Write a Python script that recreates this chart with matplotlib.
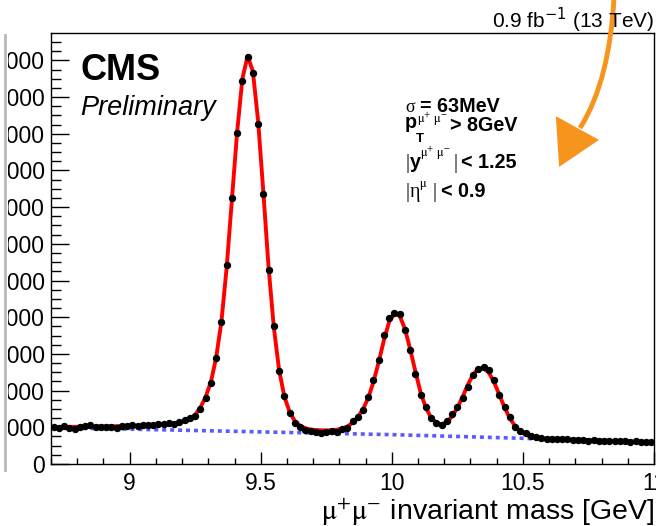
import numpy as np
import matplotlib
matplotlib.use("agg")
import matplotlib.pyplot as plt
from matplotlib.path import Path
from matplotlib.patches import PathPatch, Polygon, Rectangle
from matplotlib.lines import Line2D
from matplotlib.ticker import MultipleLocator

plt.rcParams['font.family'] = ['Liberation Sans', 'DejaVu Sans']

# binning: 115 bins of 20 MeV between 8.7 and 11.0 GeV
mass_edges = np.linspace(8.7, 11.0, 116)
mass = 0.5 * (mass_edges[:-1] + mass_edges[1:])

# events per bin
counts = [
    1010, 985, 1030, 990, 960, 1005, 1040, 1060, 1010, 995, 1000, 1020, 985, 1030,
    1045, 1060, 1040, 1075, 1050, 1070, 1090, 1080, 1110, 1100, 1150, 1190, 1240,
    1300, 1500, 1790, 2200, 2900, 3880, 5420, 7260, 9010, 10440, 11100, 10660, 9260,
    7350, 5300, 3760, 2540, 1850, 1400, 1110,
    1016, 930, 900, 880, 840, 870, 905, 880, 950, 980, 1170,
    1280, 1470, 1830, 2290, 2830, 3510, 3970, 4110, 4090, 3650, 3100, 2450,
    1890, 1560, 1245, 1110, 1065, 1180, 1370, 1540, 1810, 2110, 2420, 2600, 2640,
    2560, 2290, 1880, 1560, 1290, 1020, 900, 840, 760, 735,
    705, 690, 680, 690, 670, 675, 655, 665, 650, 640, 655, 635, 640, 625, 630, 615,
    625, 610, 615, 600, 605, 595,
]

# total fit (signal + background), sampled at the bin centres
fit_total = [
    1005, 1007, 1009, 1011, 1013, 1015, 1017, 1019, 1021, 1023, 1025, 1028, 1031,
    1034, 1037, 1041, 1045, 1050, 1055, 1061, 1068, 1077, 1089, 1105, 1128, 1160,
    1210, 1340, 1540, 1830, 2240, 2900, 3880, 5350, 7200, 9050, 10500, 11120, 10700,
    9350, 7400, 5350, 3720, 2560, 1840, 1420, 1170,
    1040, 975, 940, 925, 918, 916, 920, 935, 965, 1020, 1120,
    1280, 1490, 1800, 2240, 2780, 3380, 3880, 4100, 4040, 3680, 3130, 2520,
    1940, 1530, 1260, 1120, 1080, 1140, 1300, 1530, 1830, 2160, 2440, 2600, 2610,
    2490, 2230, 1890, 1540, 1250, 1030, 890, 800, 750, 715,
    700, 694, 688, 682, 676, 671, 666, 661, 656, 651, 647, 642, 638, 633, 628, 624,
    619, 615, 610, 605, 600, 596,
]

# background component
bg_mass = [8.7, 9.0, 9.5, 10.0, 10.5, 11.0]
bg_fit = [985, 950, 875, 800, 700, 585]

W, H = 656, 526
fig = plt.figure(figsize=(W / 100, H / 100), dpi=100)
ax = fig.add_axes([51 / W, 1 - 464 / H, (654 - 51) / W, (464 - 33) / H])

ax.plot(bg_mass, bg_fit, color="#5a5aff", lw=2.6, ls=(0, (1.1, 1.1)), zorder=2)
ax.plot(mass, fit_total, color="#ff0000", lw=2.8, zorder=3)
ax.plot(mass, counts, "o", color="black", ms=4.3, zorder=4)

ax.set_xlim(8.7, 11.0)
ax.set_ylim(0, 11745)
ax.xaxis.set_major_locator(MultipleLocator(0.5))
ax.xaxis.set_minor_locator(MultipleLocator(0.1))
ax.yaxis.set_major_locator(MultipleLocator(1000))
ax.yaxis.set_minor_locator(MultipleLocator(250))
ax.set_xticks([9, 9.5, 10, 10.5, 11])
ax.set_xticklabels(["9", "9.5", "10", "10.5", "11"])

ax.tick_params(axis="both", which="both", direction="in", top=False, right=False,
               labelsize=16.5, width=1)
ax.tick_params(axis="y", which="major", length=13, pad=4.5)
ax.tick_params(axis="y", which="minor", length=7)
ax.tick_params(axis="x", which="major", length=8.5, pad=6)
ax.tick_params(axis="x", which="minor", length=4)
for s in ax.spines.values():
    s.set_linewidth(1.0)

ax.set_xlabel(r"$\mathrm{\mu^{+}\mu^{-}}$ invariant mass [GeV]", fontsize=20.5,
              loc="right", labelpad=1, math_fontfamily="stix")


def fpt(x, y):
    # picture pixels (from the top-left corner) -> figure fraction
    return (x / W, 1 - y / H)


def put(x, y, s, **kw):
    fig.text(*fpt(x, y), s, ha="left", va="baseline", **kw)


# CMS labels
put(80, 80, "CMS", fontsize=26, fontweight="bold")
put(80, 115, "Preliminary", fontsize=19.5, style="italic")
fig.text(*fpt(654, 28), r"0.9 fb$^{\mathsf{-1}}$ (13 TeV)", fontsize=15, ha="right", va="baseline")

# selection info, built from pieces like the TLatex original
bold = dict(fontsize=14.2, fontweight="bold")
greek = dict(fontsize=14.5, family="Liberation Serif")
sup = dict(fontsize=9, math_fontfamily="stix")
put(405, 112, "σ", fontsize=13, family="Liberation Serif")
put(420, 112, "= 63MeV", **bold)
put(405, 128, "p", **bold)
put(416, 142, "T", fontsize=9.5, fontweight="bold")
put(417, 123, r"$\mathrm{\mu^{+}\ \mu^{-}}$", **sup)
put(450, 131, "> 8GeV", **bold)
put(405, 168, "|", **greek)
put(410, 168, "y", **bold)
put(420, 157, r"$\mathrm{\mu^{+}\ \mu^{-}}$", **sup)
put(454, 168, "|", **greek)
put(461, 168, "< 1.25", **bold)
put(405, 197, "|", **greek)
put(410, 197, "η", **greek)
put(419, 187, r"$\mathrm{\mu}$", **sup)
put(433, 197, "|", **greek)
put(441, 197, "< 0.9", **bold)

# hand-drawn orange arrow on the slide
orange = "#f7941d"
shaft = Path([fpt(614, -2), fpt(611, 50), fpt(601, 95), fpt(580, 128)],
             [Path.MOVETO, Path.CURVE4, Path.CURVE4, Path.CURVE4])
fig.patches.append(PathPatch(shaft, facecolor="none", edgecolor=orange, lw=3.5,
                             transform=fig.transFigure, figure=fig))
fig.patches.append(Polygon([fpt(557, 118), fpt(597, 140), fpt(560, 165)], closed=True,
                           facecolor=orange, edgecolor=orange, lw=1.5,
                           transform=fig.transFigure, figure=fig))

# slide edge at the left: hides the leading digits of the y labels
fig.artists.append(Rectangle(fpt(0, 526), 7.5 / W, 1, facecolor="white", edgecolor="none",
                             transform=fig.transFigure, figure=fig, zorder=5))
fig.lines.append(Line2D([4.5 / W, 4.5 / W], [1 - 35 / H, 1 - 470 / H], color="#b8b8b8", lw=2,
                        transform=fig.transFigure, figure=fig, zorder=6))

fig.savefig("out.png", dpi=100)
